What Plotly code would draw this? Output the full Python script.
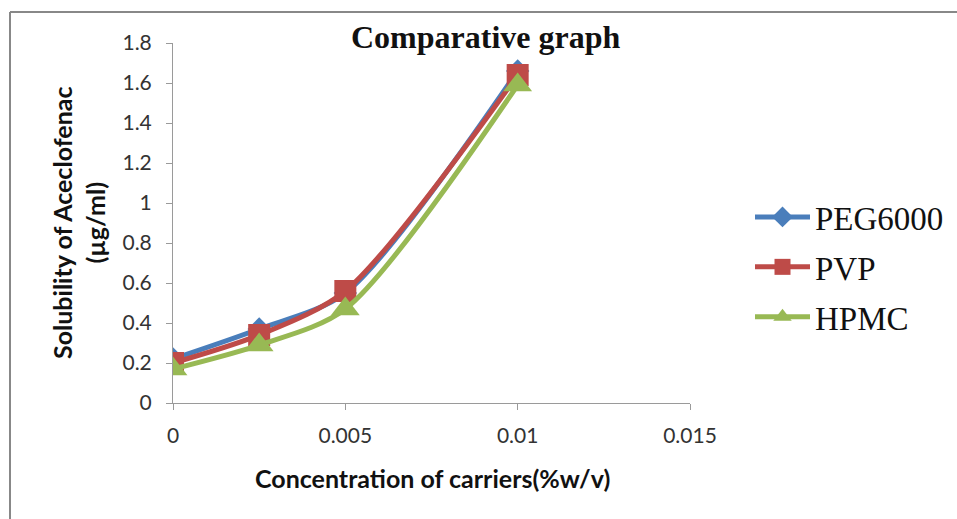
import plotly.graph_objects as go

conc = [0, 0.0025, 0.005, 0.01]
peg6000 = [0.22, 0.37, 0.55, 1.66]
pvp = [0.20, 0.34, 0.56, 1.64]
hpmc = [0.17, 0.29, 0.47, 1.59]

W, H = 957, 519
L, R, T, B = 173, 267, 43, 116
pw, ph = W - L - R, H - T - B

def px_x(x):
    return (x - L) / pw

def px_y(y):
    return (H - B - y) / ph

fig = go.Figure()
series = [
    ("PEG6000", peg6000, "#4A7EBB", "diamond", 18),
    ("PVP", pvp, "#BE4B48", "square", 22),
    ("HPMC", hpmc, "#98B954", "triangle-up", 25),
]
for name, vals, col, sym, sz in series:
    fig.add_trace(go.Scatter(
        x=conc, y=vals, name=name, mode="lines+markers",
        line=dict(color=col, width=5, shape="spline", smoothing=0.8),
        marker=dict(symbol=sym, size=sz, color=col),
        legendgroup=name,
    ))

fig.update_layout(
    width=W, height=H,
    margin=dict(l=L, r=R, t=T, b=B, autoexpand=False),
    paper_bgcolor="white", plot_bgcolor="white",
    showlegend=True,
    legend=dict(
        x=px_x(750), y=px_y(189), xanchor="left", yanchor="top",
        font=dict(family="Liberation Serif", size=33, color="#111111"),
        tracegroupgap=4, itemwidth=55, bgcolor="rgba(0,0,0,0)",
    ),
    xaxis=dict(
        range=[0, 0.015], tickvals=[0, 0.005, 0.01, 0.015],
        ticktext=["0", "0.005", "0.01", "0.015"],
        showgrid=False, zeroline=False, showline=True, linecolor="#9a9a9a", linewidth=1,
        ticks="outside", ticklen=6, tickcolor="#9a9a9a",
        tickfont=dict(family="Lato", size=21, color="#333333"),
        ticklabelstandoff=8,
    ),
    yaxis=dict(
        range=[0, 1.8], tickvals=[0, 0.2, 0.4, 0.6, 0.8, 1, 1.2, 1.4, 1.6, 1.8],
        ticktext=["0", "0.2", "0.4", "0.6", "0.8", "1", "1.2", "1.4", "1.6", "1.8"],
        showgrid=False, zeroline=False, showline=True, linecolor="#9a9a9a", linewidth=1,
        ticks="outside", ticklen=6, tickcolor="#9a9a9a",
        tickfont=dict(family="Lato", size=21, color="#333333"),
        ticklabelstandoff=10,
    ),
    annotations=[
        dict(text="<b>Comparative graph</b>", x=px_x(486), y=px_y(37), xref="paper", yref="paper",
             xanchor="center", yanchor="middle", showarrow=False,
             font=dict(family="Liberation Serif", size=32, color="#111111")),
        dict(text="<b>Solubility of Aceclofenac<br>(µg/ml)</b>", x=px_x(78), y=px_y(223),
             xref="paper", yref="paper", xanchor="center", yanchor="middle",
             showarrow=False, textangle=-90,
             font=dict(family="Lato", size=25, color="#111111")),
        dict(text="<b>Concentration of carriers(%w/v)</b>", x=px_x(432), y=px_y(478),
             xref="paper", yref="paper", xanchor="center", yanchor="middle", showarrow=False,
             font=dict(family="Lato", size=25, color="#111111")),
    ],
    shapes=[
        dict(type="line", xref="paper", yref="paper", x0=px_x(10), x1=px_x(957), y0=px_y(12), y1=px_y(12),
             line=dict(color="#888888", width=2)),
        dict(type="line", xref="paper", yref="paper", x0=px_x(10), x1=px_x(10), y0=px_y(12), y1=px_y(519),
             line=dict(color="#888888", width=2)),
    ],
)

fig.write_html("out.html")
